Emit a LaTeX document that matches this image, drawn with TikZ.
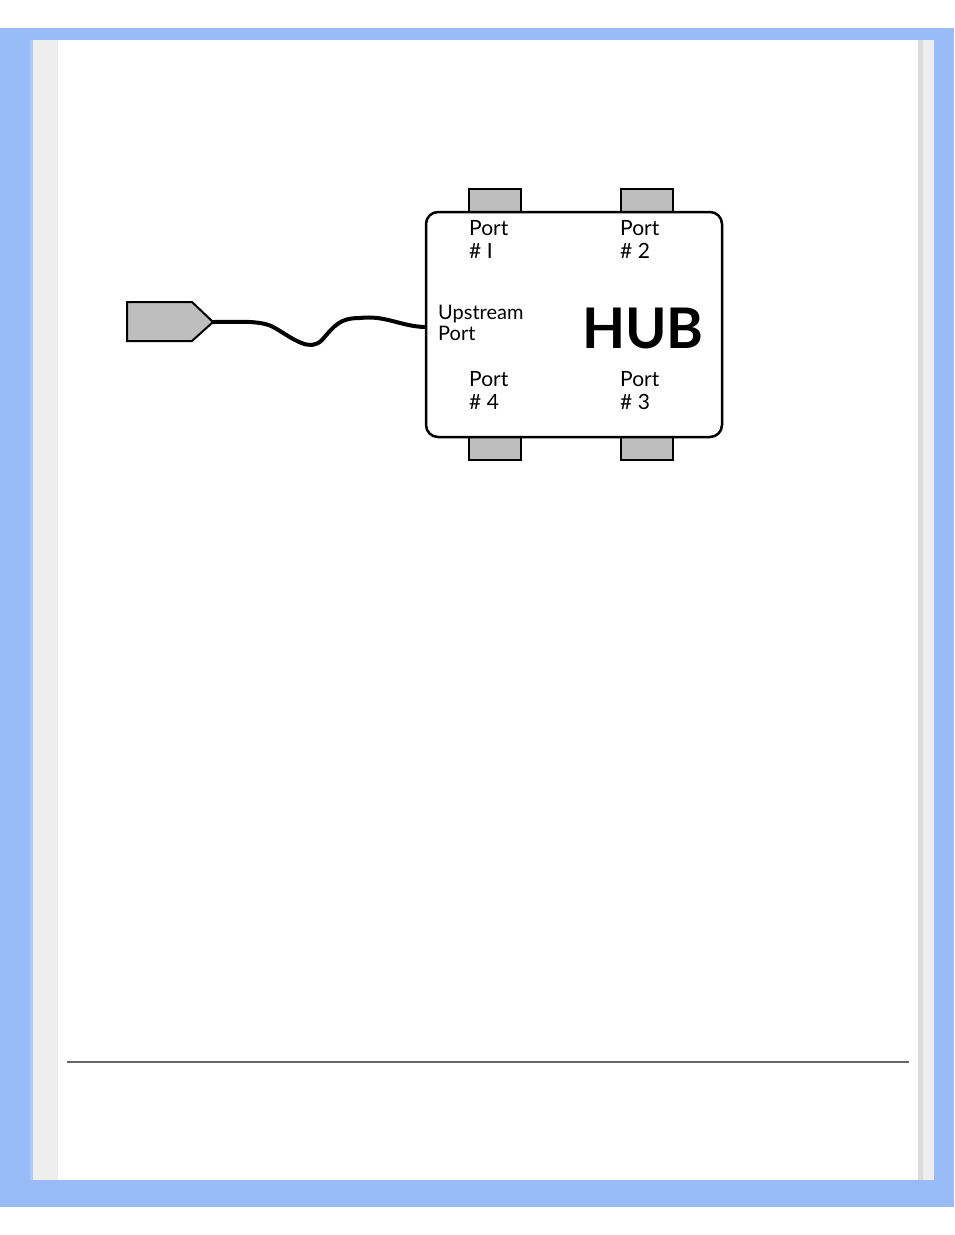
\documentclass[tikz,border=0pt]{standalone}
\usepackage{fontspec}
\setmainfont{Lato}
\definecolor{frame}{HTML}{99BBF8}
\definecolor{strip}{HTML}{EEEEEE}
\definecolor{plug}{HTML}{BEBEBE}
\begin{document}
\begin{tikzpicture}[x=1pt,y=-1pt,
  tab/.style={fill=plug,draw=black,line width=2.2pt},
  lbl/.style={anchor=north west,align=left,inner sep=0pt,font=\fontsize{21}{25}\selectfont}]
\useasboundingbox (0,0) rectangle (954,1235);
\fill[white] (0,0) rectangle (954,1235);
\fill[frame] (0,28) rectangle (954,1207);
\fill[white] (30,40) rectangle (934,1180);
\fill[frame!80!white] (30,40) rectangle (33,1180);
\fill[strip] (33,40) rectangle (58,1180);
\fill[strip] (918,40) rectangle (934,1180);
\fill[strip!92!black] (918,40) rectangle (923,1180);
\draw[gray!80!black,line width=1.2pt] (67,1062) -- (909,1062);
% tabs
\draw[tab] (469,189) rectangle (521,212);
\draw[tab] (621,189) rectangle (673,212);
\draw[tab] (469,437) rectangle (521,460);
\draw[tab] (621,437) rectangle (673,460);
\draw[line width=2.5pt,rounded corners=12pt,fill=white] (426,212) rectangle (722,437);
\node[lbl] (p1) at (469,220) {Port\\[-2pt]\# I};
\node[lbl] (p2) at (620,220) {Port\\[-2pt]\# 2};
\node[lbl] (p4) at (469,371) {Port\\[-2pt]\# 4};
\node[lbl] (p3) at (620,371) {Port\\[-2pt]\# 3};
\node[lbl,font=\fontsize{20}{23}\selectfont] (up) at (438,305) {Upstream\\[-2pt]Port};
\node[anchor=center,inner sep=0pt,font=\fontsize{56}{56}\selectfont\bfseries] (hub) at (643,328) {HUB};
% plug and cable
\draw[fill=plug,line width=2pt] (127,302) -- (192,302) -- (213,322) -- (192,341) -- (127,341) -- cycle;
\coordinate (pt) at (213,322);
\coordinate (he) at (424,327);
\draw[line width=4pt,line cap=round] (pt) .. controls (240,322) and (262,320) .. (275,328)
  .. controls (295,340) and (310,352) .. (322,340)
  .. controls (335,325) and (340,318) .. (360,318)
  .. controls (385,315) and (400,326) .. (he);
\end{tikzpicture}
\end{document}
